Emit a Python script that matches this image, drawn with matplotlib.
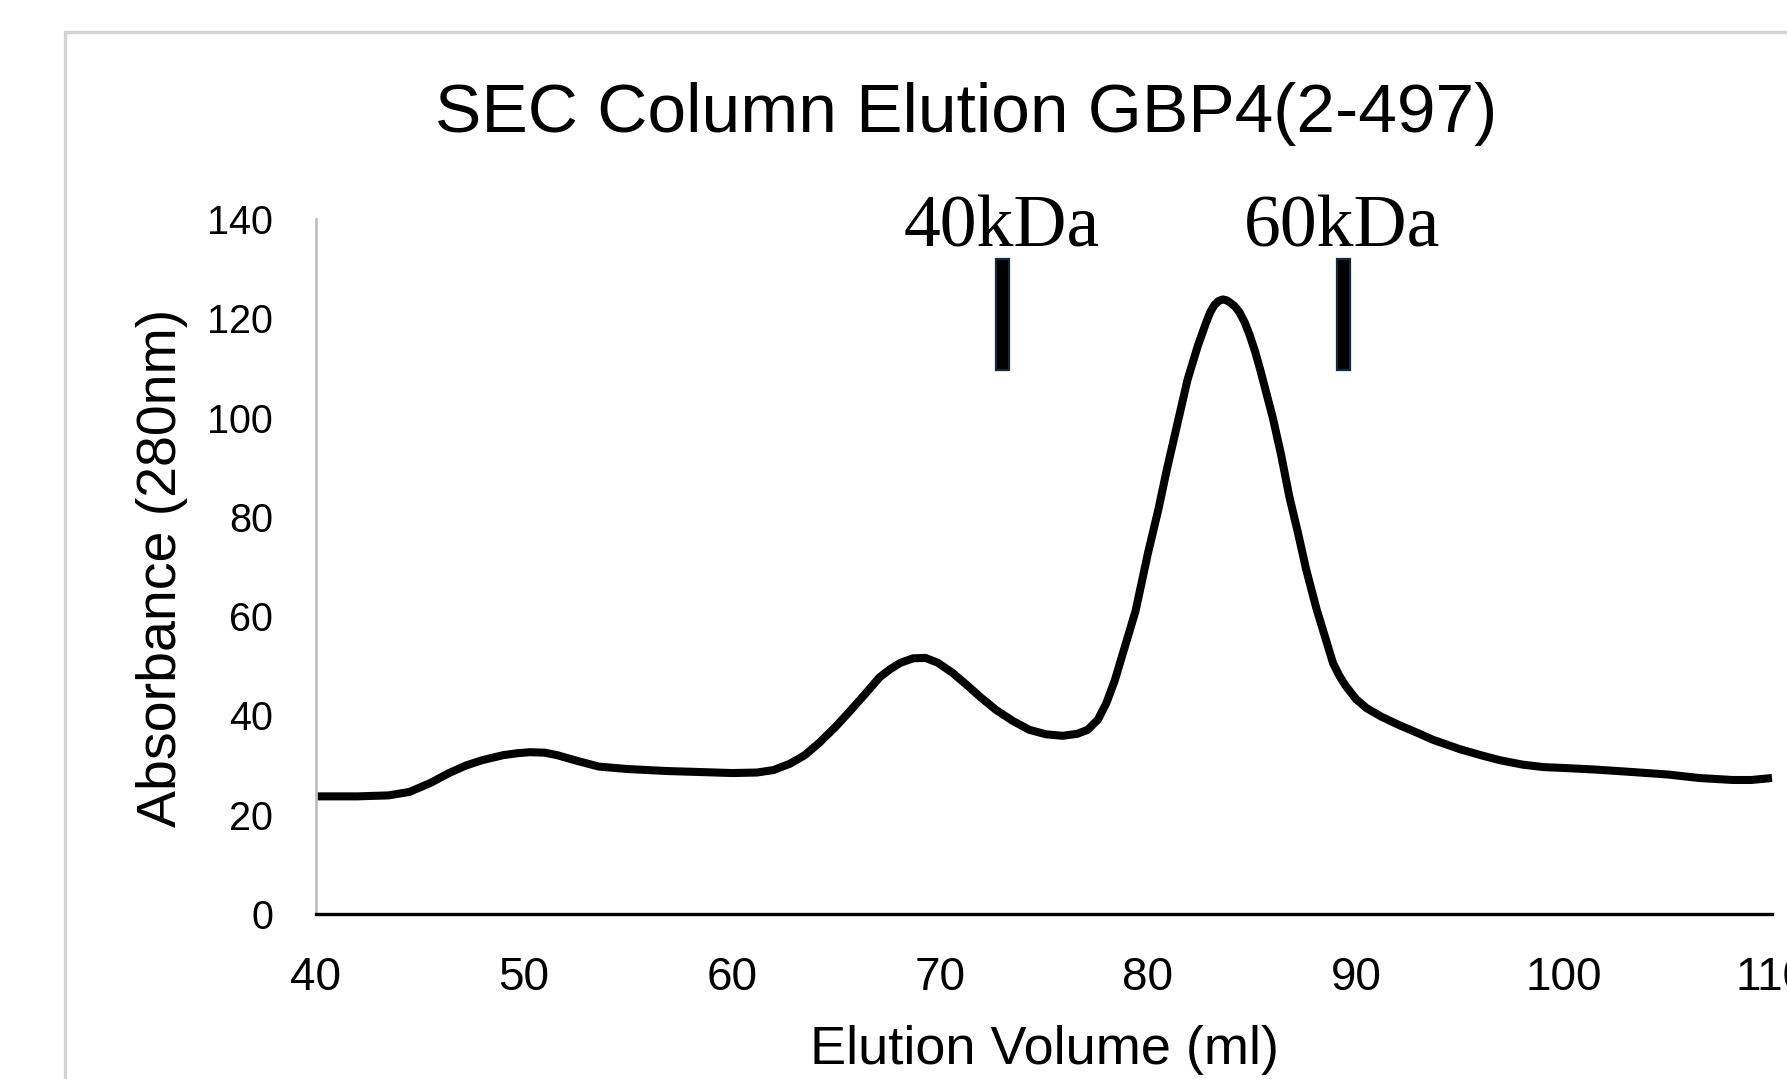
import matplotlib.pyplot as plt
from matplotlib.patches import Rectangle

# elution trace (ml, mAU at 280 nm)
volume = [40.0, 42.0, 43.5, 44.5, 45.5, 46.4, 47.2, 48.0, 49.0, 49.7,
          50.3, 51.0, 51.6, 52.6, 53.6, 55.0, 56.9, 58.5, 60.0, 61.2,
          62.0, 62.8, 63.5, 64.2, 65.0, 65.7, 66.4, 67.1, 67.6, 68.1,
          68.7, 69.3, 69.9, 70.6, 71.3, 72.0, 72.7, 73.5, 74.3, 75.1,
          75.9, 76.6, 77.1, 77.6, 78.0, 78.4, 78.8, 79.4, 80.0, 80.5,
          80.9, 81.4, 81.9, 82.4, 82.8, 83.0, 83.2, 83.4, 83.6, 83.8,
          84.0, 84.2, 84.4, 84.65, 84.9, 85.15, 85.4, 85.7, 86.0, 86.4,
          86.8, 87.2, 87.6, 88.1, 88.5, 88.9, 89.2, 89.5, 90.0, 90.5,
          91.2, 92.0, 93.0, 93.7, 95.0, 96.0, 96.9, 98.0, 99.0, 100.1,
          101.5, 103.3, 105.0, 106.5, 108.1, 109.0, 110.0]
absorbance = [23.7, 23.7, 23.9, 24.6, 26.4, 28.4, 29.9, 31.0, 32.0, 32.4,
              32.6, 32.5, 32.0, 30.8, 29.7, 29.2, 28.8, 28.6, 28.4, 28.5,
              29.0, 30.3, 32.0, 34.5, 37.8, 41.0, 44.3, 47.7, 49.3, 50.6,
              51.5, 51.6, 50.6, 48.6, 46.1, 43.5, 41.1, 38.9, 37.1, 36.2,
              35.9, 36.3, 37.1, 39.2, 42.5, 47.0, 52.6, 61.0, 72.7, 81.5,
              89.4, 98.5, 107.6, 114.5, 119.2, 121.3, 122.7, 123.5, 123.8, 123.6,
              123.0, 122.3, 121.2, 119.2, 116.5, 113.3, 109.6, 104.8, 100.0, 92.5,
              84.0, 77.0, 69.5, 61.5, 56.0, 50.5, 48.0, 46.0, 43.3, 41.5,
              39.8, 38.2, 36.4, 35.1, 33.2, 32.0, 31.0, 30.1, 29.6, 29.4,
              29.1, 28.6, 28.1, 27.4, 27.0, 27.0, 27.4]

# size standards
marker_labels = ['40kDa', '60kDa']
marker_volume = [73.0, 89.4]

x_ticks = [40, 50, 60, 70, 80, 90, 100, 110]
y_ticks = [0, 20, 40, 60, 80, 100, 120, 140]

plt.rcParams['font.family'] = ['Liberation Sans', 'DejaVu Sans']

fig = plt.figure(figsize=(17.87, 10.79), dpi=100)
ax = fig.add_axes([0.1768, 0.1529, 0.8148, 0.6441])

# light grey frame around the chart area (cut off right and bottom)
fig.patches.append(Rectangle((0.0364, -0.2), 1.2, 1.1703, transform=fig.transFigure,
                             fill=False, edgecolor='#d4d4d4', linewidth=2.4))

ax.plot(volume, absorbance, color='black', linewidth=5.8, solid_capstyle='butt',
        solid_joinstyle='round', clip_on=False)

# marker bars + labels
ax.bar(marker_volume, 22.5, bottom=109.5, width=0.62, color='black',
       edgecolor='#12293b', linewidth=1.6, clip_on=False)
for xm, lab in zip(marker_volume, marker_labels):
    ax.text(xm - 0.05, 134.4, lab, ha='center', va='baseline', fontsize=53,
            family='Liberation Serif', clip_on=False)

ax.set_xlim(40, 110)
ax.set_ylim(0, 140)
ax.set_xticks(x_ticks)
ax.set_yticks(y_ticks)
ax.tick_params(length=0)
ax.tick_params(axis='x', pad=30, labelsize=33)
ax.tick_params(axis='y', pad=31, labelsize=28.5)
for lab in ax.get_xticklabels():
    lab.set_family(['Liberation Sans Narrow', 'Liberation Sans'])
    lab.set_clip_on(False)

for side in ['top', 'right']:
    ax.spines[side].set_visible(False)
ax.spines['left'].set_color('#c0c0c0')
ax.spines['left'].set_linewidth(2.0)
ax.spines['bottom'].set_color('black')
ax.spines['bottom'].set_linewidth(2.4)

fig.text(966 / 1787, 1 - 114 / 1079, 'SEC Column Elution GBP4(2-497)',
         ha='center', va='center', fontsize=50)
fig.text(1044 / 1787, 1 - 1050 / 1079, 'Elution Volume (ml)',
         ha='center', va='center', fontsize=39)
fig.text(162 / 1787, 1 - 568 / 1079, 'Absorbance (280nm)',
         ha='center', va='center', rotation=90, fontsize=40)

plt.savefig('out.png', dpi=100)
